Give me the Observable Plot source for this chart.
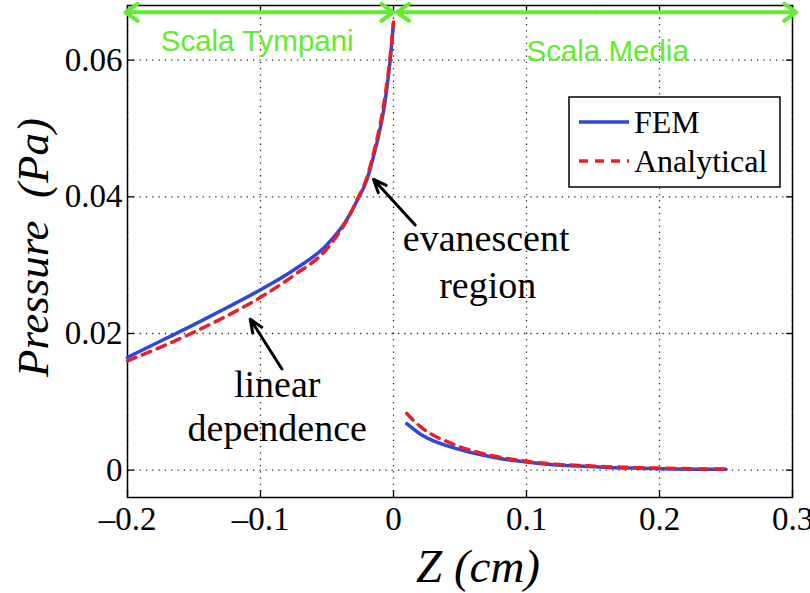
<!DOCTYPE html>
<html><head><meta charset="utf-8">
<script src="https://cdn.jsdelivr.net/npm/d3@7"></script>
<script src="https://cdn.jsdelivr.net/npm/@observablehq/plot@0.6"></script>
<style>
body{margin:0;background:#fff;}
#wrap{position:relative;width:810px;height:593px;}
#legend{position:absolute;left:0;top:0;}
</style></head><body><div id="wrap"></div>
<script>
// ---- data ----
const xTicks = [-0.2, -0.1, 0, 0.1, 0.2, 0.3];
const yTicks = [0, 0.02, 0.04, 0.06];
const xDomain = [-0.2, 0.3];
const yDomain = [-0.004, 0.068];

const leftZ    = [-0.2, -0.175, -0.15, -0.125, -0.1, -0.075, -0.05, -0.035, -0.0275, -0.02, -0.014, -0.01, -0.0063, -0.0025, 0];
const femLeftP = [0.0165, 0.0189, 0.0213, 0.0238, 0.0264, 0.0293, 0.0330, 0.0367, 0.0394, 0.0425, 0.0467, 0.0500, 0.0540, 0.0600, 0.0654];
const anaLeftP = [0.0160, 0.0180, 0.0202, 0.0226, 0.0253, 0.0285, 0.0324, 0.0366, 0.0395, 0.0428, 0.0472, 0.0506, 0.0548, 0.0605, 0.0656];

const rightZ    = [0.01, 0.02, 0.03, 0.04, 0.05, 0.06, 0.07, 0.08, 0.1, 0.12, 0.14, 0.16, 0.18, 0.2, 0.225, 0.25];
const femRightP = [0.0068, 0.0053, 0.0043, 0.0036, 0.0030, 0.0025, 0.0021, 0.0017, 0.0012, 0.0008, 0.0006, 0.0004, 0.0003, 0.0002, 0.00015, 0.00012];
const anaRightP = [0.0083, 0.0064, 0.0051, 0.0042, 0.0034, 0.0028, 0.0023, 0.0019, 0.0013, 0.0009, 0.0007, 0.0005, 0.0004, 0.0003, 0.0002, 0.00015];

const seriesNames = ["FEM", "Analytical"];

// region annotations (double-headed green arrows)
const regionNames = ["Scala Tympani", "Scala Media"];
const regionStart = [-0.2015, 0.0026];
const regionEnd   = [0, 0.3028];
const regionArrowP = 0.0670;
const regionLabelZ = [-0.1025, 0.161];
const regionLabelP = [0.06137, 0.05991];

// text annotations
const noteText = ["evanescent", "region", "linear", "dependence"];
const noteZ    = [0.0697, 0.0708, -0.0874, -0.0874];
const noteP    = [0.03207, 0.02521, 0.01066, 0.00434];
// black arrows (tail -> head)
const arrowZ1 = [0.0163, -0.0839];
const arrowP1 = [0.03587, 0.0148];
const arrowZ2 = [-0.0150, -0.1077];
const arrowP2 = [0.04254, 0.0221];

// ---- build tables ----
const femLeft  = leftZ.map((z, i) => ({z, p: femLeftP[i]}));
const anaLeft  = leftZ.map((z, i) => ({z, p: anaLeftP[i]}));
const femRight = rightZ.map((z, i) => ({z, p: femRightP[i]}));
const anaRight = rightZ.map((z, i) => ({z, p: anaRightP[i]}));
const regions = regionNames.map((name, i) => ({
  name, z1: regionStart[i], z2: regionEnd[i], mid: (regionStart[i] + regionEnd[i]) / 2,
  lz: regionLabelZ[i], lp: regionLabelP[i]
}));
const notes = noteText.map((t, i) => ({t, z: noteZ[i], p: noteP[i]}));
const arrows = arrowZ1.map((z, i) => ({z1: z, p1: arrowP1[i], z2: arrowZ2[i], p2: arrowP2[i]}));

const BLUE = "#2f46dc", RED = "#e5202a", GREEN = "#62eb30";
const SERIF = "Liberation Serif, Times New Roman, serif";
const SANS = "Liberation Sans, Arial, sans-serif";
const fmtX = d => d < 0 ? "\u2013" + String(Math.abs(d)) : String(d);
const fmtY = d => String(d);

const plot = Plot.plot({
  width: 810, height: 593,
  marginLeft: 127, marginRight: 18, marginTop: 5, marginBottom: 96,
  style: {fontFamily: SERIF, background: "white", overflow: "visible", color: "black"},
  x: {domain: xDomain, label: null},
  y: {domain: yDomain, label: null},
  marks: [
    Plot.gridX(xTicks, {stroke: "#000", strokeOpacity: 0.85, strokeWidth: 1.3, strokeDasharray: "1.3,5"}),
    Plot.gridY(yTicks, {stroke: "#000", strokeOpacity: 0.85, strokeWidth: 1.3, strokeDasharray: "1.3,5"}),
    // inward ticks on all sides
    Plot.axisX(xTicks, {anchor: "bottom", tickSize: -7, fill: "none", strokeWidth: 1.3, label: null}),
    Plot.axisX(xTicks, {anchor: "top", tickSize: -7, fill: "none", strokeWidth: 1.3, label: null}),
    Plot.axisY(yTicks, {anchor: "left", tickSize: -7, fill: "none", strokeWidth: 1.3, label: null}),
    Plot.axisY(yTicks, {anchor: "right", tickSize: -7, fill: "none", strokeWidth: 1.3, label: null}),
    // tick labels
    Plot.axisX(xTicks, {anchor: "bottom", tickSize: 0, tickPadding: 9, fontSize: 33, tickFormat: fmtX, label: null, fill: "#000"}),
    Plot.axisY(yTicks, {anchor: "left", tickSize: 0, tickPadding: 5, fontSize: 33, tickFormat: fmtY, label: null, fill: "#000"}),
    Plot.frame({stroke: "#000", strokeWidth: 1.5}),
    // data
    Plot.line(femLeft,  {x: "z", y: "p", stroke: BLUE, strokeWidth: 3.5, curve: "monotone-x"}),
    Plot.line(femRight, {x: "z", y: "p", stroke: BLUE, strokeWidth: 3.5, curve: "monotone-x"}),
    Plot.line(anaLeft,  {x: "z", y: "p", stroke: RED, strokeWidth: 3.5, strokeDasharray: "9,7", curve: "monotone-x"}),
    Plot.line(anaRight, {x: "z", y: "p", stroke: RED, strokeWidth: 3.5, strokeDasharray: "9,7", curve: "monotone-x"}),
    // green region arrows
    Plot.arrow(regions, {x1: "mid", x2: "z1", y1: () => regionArrowP, y2: () => regionArrowP, stroke: GREEN, strokeWidth: 4, headLength: 5.5, headAngle: 70}),
    Plot.arrow(regions, {x1: "mid", x2: "z2", y1: () => regionArrowP, y2: () => regionArrowP, stroke: GREEN, strokeWidth: 4, headLength: 5.5, headAngle: 70}),
    Plot.text(regions, {x: "lz", y: "lp", text: "name", fill: GREEN, fontFamily: SANS, fontSize: 29.5, lineAnchor: "bottom", textAnchor: "middle"}),
    // annotations
    Plot.arrow(arrows, {x1: "z1", y1: "p1", x2: "z2", y2: "p2", stroke: "#000", strokeWidth: 3, headLength: 7, headAngle: 45}),
    Plot.text(notes, {x: "z", y: "p", text: "t", fill: "#000", fontSize: 38, lineAnchor: "bottom", textAnchor: "middle"}),
    // axis titles
    Plot.text([0], {frameAnchor: "left", dx: -94, dy: -4, rotate: -90, text: () => "Pressure\u00a0\u00a0(Pa)", fontSize: 45, fontStyle: "italic", lineAnchor: "middle", textAnchor: "middle", fill: "#000"}),
    Plot.text([0], {frameAnchor: "bottom", dy: 69, dx: 18, text: () => "Z (cm)", fontSize: 47, fontStyle: "italic", lineAnchor: "middle", textAnchor: "middle", fill: "#000"})
  ]
});

const wrap = document.getElementById("wrap");
wrap.appendChild(plot);

// legend overlay (inside the axes, top-right like the original)
const ns = "http://www.w3.org/2000/svg";
const leg = document.createElementNS(ns, "svg");
leg.setAttribute("id", "legend");
leg.setAttribute("width", 810); leg.setAttribute("height", 593);
leg.style.pointerEvents = "none";
const box = {x: 569, y: 97, w: 211, h: 90};
leg.innerHTML = `<rect x="${box.x}" y="${box.y}" width="${box.w}" height="${box.h}" fill="#fff" stroke="#000" stroke-width="1.5"/>` +
  seriesNames.map((name, i) => {
    const cy = box.y + 25 + i * 39;
    const dash = i === 1 ? ` stroke-dasharray="9,7"` : "";
    const col = i === 0 ? BLUE : RED;
    return `<line x1="${box.x + 10}" x2="${box.x + 60}" y1="${cy}" y2="${cy}" stroke="${col}" stroke-width="3.5"${dash}/>` +
      `<text x="${box.x + 65}" y="${cy + 11}" font-family="${SERIF}" font-size="32" fill="#000">${name}</text>`;
  }).join("");
wrap.appendChild(leg);
</script>
</body></html>
